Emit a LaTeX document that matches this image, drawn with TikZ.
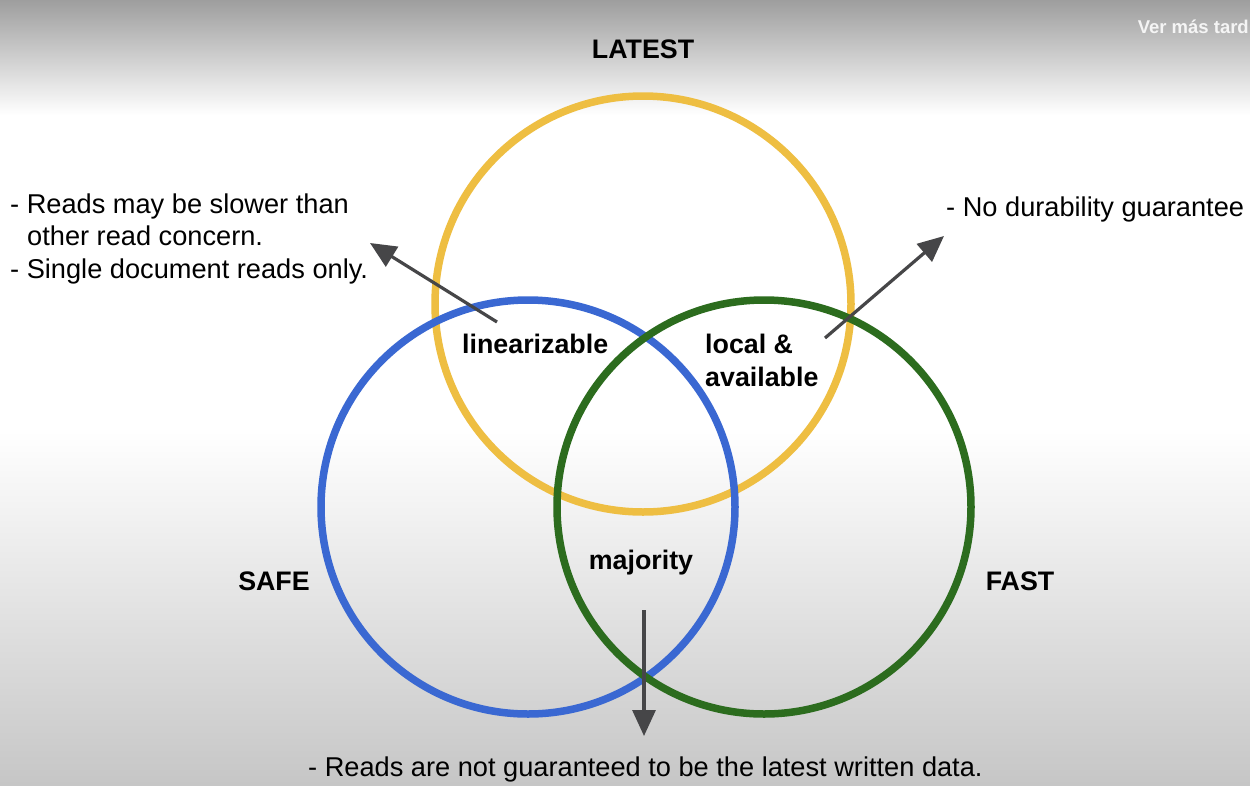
\documentclass[tikz,border=0pt]{standalone}
\usepackage{fontspec}
\setmainfont{Liberation Sans}
\usetikzlibrary{arrows.meta}
\definecolor{cyel}{RGB}{238,190,66}
\definecolor{cblue}{RGB}{58,104,210}
\definecolor{cgreen}{RGB}{44,108,30}
\definecolor{carrow}{RGB}{70,70,72}
\definecolor{bgtop}{RGB}{158,158,158}
\definecolor{bgbot}{RGB}{198,198,198}
\tikzset{
  ring/.style={line width=7.5pt},
  lbl/.style={font=\fontsize{26.8}{30}\selectfont\bfseries, inner sep=0pt, anchor=base},
  note/.style={font=\fontsize{27.2}{32}\selectfont, inner sep=0pt, anchor=base west},
  pointer/.style={carrow, line width=3.2pt, -{Triangle[length=26pt,width=23pt]}},
}
\begin{document}
\begin{tikzpicture}[x=1pt,y=-1pt]
\useasboundingbox (0,0) rectangle (1250,785);
% background
\shade[top color=bgtop, bottom color=white] (0,0) rectangle (1250,115);
\fill[white] (0,115) rectangle (1250,430);
\shade[top color=white, bottom color=bgbot] (0,430) rectangle (1250,785);
\node[font=\fontsize{18.5}{20}\selectfont\bfseries, text=white!92!gray, inner sep=0pt, anchor=base east] (ver) at (1249,33) {Ver más tard};
% circles
\draw[ring, cyel] (643,304) circle (208);
\draw[ring, cblue] (528,507) circle (207);
\draw[ring, cgreen] (764,507) circle (207);
% labels
\node[lbl] (latest) at (643,58) {LATEST};
\node[lbl] (safe) at (274,590) {SAFE};
\node[lbl] (fast) at (1020,590) {FAST};
\node[lbl, anchor=base west] (lin) at (462,353) {linearizable};
\node[lbl, anchor=base west] (loc) at (705,353) {local \&};
\node[lbl, anchor=base west] (avail) at (705,386) {available};
\node[lbl] (maj) at (641,569) {majority};
% notes
\node[note] (n1) at (10,213) {- Reads may be slower than};
\node[note] (n2) at (27,245) {other read concern.};
\node[note] (n3) at (10,278) {- Single document reads only.};
\node[note] (n4) at (946,216) {- No durability guarantee};
\node[note] (n5) at (308,776) {- Reads are not guaranteed to be the latest written data.};
% arrows
\coordinate (a1s) at (497,322);
\coordinate (a1e) at (370,243);
\coordinate (a2s) at (825,338);
\coordinate (a2e) at (944,236);
\coordinate (a3s) at (644,610);
\coordinate (a3e) at (644,736);
\draw[pointer] (a1s) -- (a1e);
\draw[pointer] (a2s) -- (a2e);
\draw[pointer] (a3s) -- (a3e);
\end{tikzpicture}
\end{document}
